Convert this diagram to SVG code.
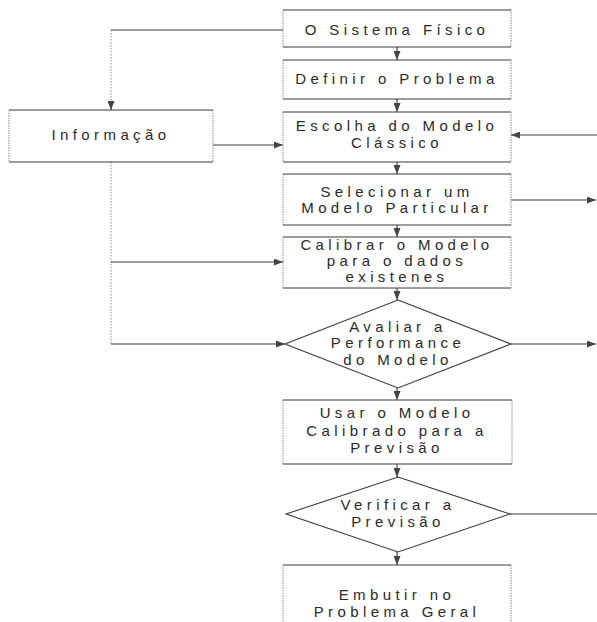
<svg xmlns="http://www.w3.org/2000/svg" width="597" height="622" viewBox="0 0 597 622">
<style>
.h{stroke:#3a3a3a;stroke-width:1.2;fill:none}
.v{stroke:#888;stroke-width:1;stroke-dasharray:1.5 1;fill:none}
.d{stroke:#3a3a3a;stroke-width:1.1;fill:#fff}
.c{stroke:#3a3a3a;stroke-width:1.1;fill:none}
.cd{stroke:#888;stroke-width:1;stroke-dasharray:1.5 1.5;fill:none}
text{font-family:"Liberation Sans",Arial,sans-serif;font-size:15px;fill:#2a2a2a;letter-spacing:4.4px;text-anchor:middle}
</style>
<defs>
<marker id="a" markerWidth="9" markerHeight="7" refX="9" refY="3.5" orient="auto" markerUnits="userSpaceOnUse">
<path d="M0,0 L9,3.5 L0,7 Z" fill="#444"/>
</marker>
</defs>
<rect width="597" height="622" fill="#fff"/>
<g id="connectors">
<path class="c" d="M283,30 H111"/>
<path class="cd" d="M111,30 V110"/>
<path class="c" d="M111,104 V110" marker-end="url(#a)"/>
<path class="c" d="M213,145 H283" marker-end="url(#a)"/>
<path class="cd" d="M111,162 V344"/>
<path class="c" d="M111,262 H283" marker-end="url(#a)"/>
<path class="c" d="M111,344 H285" marker-end="url(#a)"/>
<path class="c" d="M597,135 H511" marker-end="url(#a)"/>
<path class="c" d="M511,200 H596" marker-end="url(#a)"/>
<path class="c" d="M511,344 H596" marker-end="url(#a)"/>
<path class="c" d="M510,514 H597"/>
<path class="c" d="M397,47 V60" marker-end="url(#a)"/>
<path class="c" d="M397,99 V112" marker-end="url(#a)"/>
<path class="c" d="M397,162 V174" marker-end="url(#a)"/>
<path class="c" d="M397,225 V237" marker-end="url(#a)"/>
<path class="c" d="M397,288 V300" marker-end="url(#a)"/>
<path class="c" d="M397,388 V400" marker-end="url(#a)"/>
<path class="c" d="M397,464 V477" marker-end="url(#a)"/>
<path class="c" d="M397,552 V565" marker-end="url(#a)"/>
</g>
<g id="n1">
<path class="h" d="M283,10 H511 M283,47 H511"/><path class="v" d="M283,10 V47 M511,10 V47"/>
<text x="397" y="35">O Sistema Físico</text>
</g>
<g id="n2">
<path class="h" d="M283,60 H511 M283,99 H511"/><path class="v" d="M283,60 V99 M511,60 V99"/>
<text x="397" y="84">Definir o Problema</text>
</g>
<g id="n3">
<path class="h" d="M283,112 H511 M283,162 H511"/><path class="v" d="M283,112 V162 M511,112 V162"/>
<text x="397" y="131">Escolha do Modelo</text>
<text x="397" y="148">Clássico</text>
</g>
<g id="n4">
<path class="h" d="M283,174 H511 M283,225 H511"/><path class="v" d="M283,174 V225 M511,174 V225"/>
<text x="397" y="197">Selecionar um</text>
<text x="397" y="213">Modelo Particular</text>
</g>
<g id="n5">
<path class="h" d="M283,237 H511 M283,288 H511"/><path class="v" d="M283,237 V288 M511,237 V288"/>
<text x="397" y="250">Calibrar o Modelo</text>
<text x="397" y="266">para o dados</text>
<text x="397" y="282">existenes</text>
</g>
<g id="n6">
<path class="d" d="M398,300 L511,344 L398,388 L285,344 Z"/>
<text x="398" y="332">Avaliar a</text>
<text x="398" y="348">Performance</text>
<text x="398" y="365">do Modelo</text>
</g>
<g id="n7">
<path class="h" d="M283,400 H512 M283,464 H512"/><path class="v" d="M283,400 V464 M512,400 V464"/>
<text x="397" y="418">Usar o Modelo</text>
<text x="397" y="436">Calibrado para a</text>
<text x="397" y="453">Previsão</text>
</g>
<g id="n8">
<path class="d" d="M398,477 L510,514 L398,552 L286,514 Z"/>
<text x="398" y="510">Verificar a</text>
<text x="398" y="527">Previsão</text>
</g>
<g id="n9">
<path class="h" d="M283,565 H511"/><path class="v" d="M283,565 V622 M511,565 V622"/>
<text x="397" y="600">Embutir no</text>
<text x="397" y="617">Problema Geral</text>
</g>
<g id="n10">
<path class="h" d="M9,110 H213 M9,162 H213"/><path class="v" d="M9,110 V162 M213,110 V162"/>
<text x="111" y="140">Informação</text>
</g>
</svg>
